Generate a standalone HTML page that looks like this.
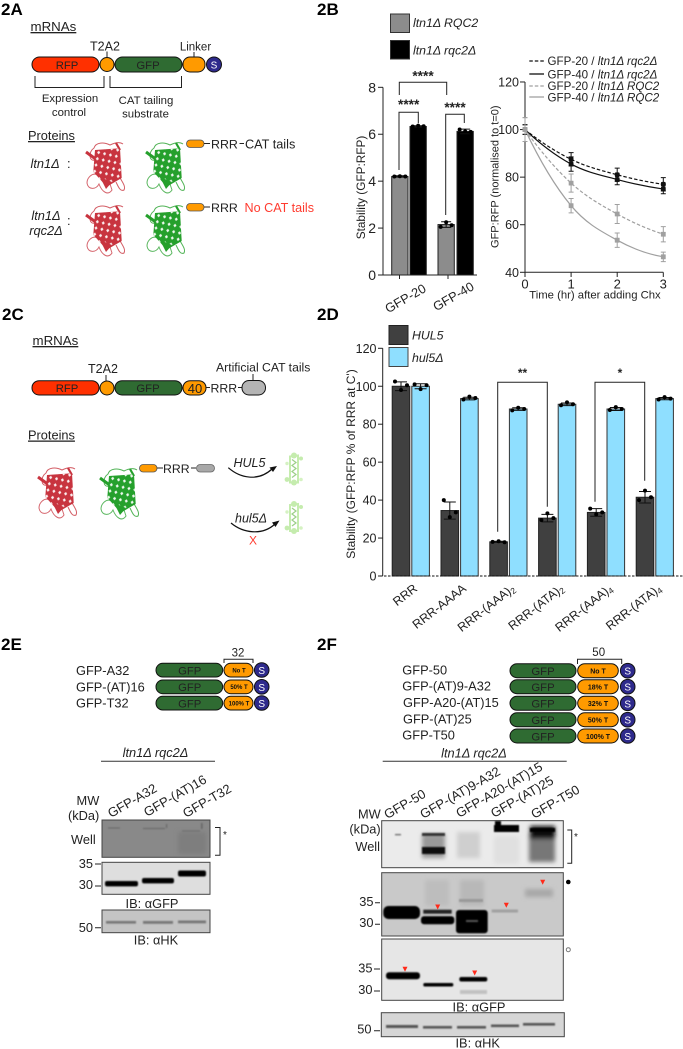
<!DOCTYPE html>
<html lang="en"><head><meta charset="utf-8"><title>Figure 2</title>
<style>
html,body{margin:0;padding:0;background:#fff}
svg{display:block}
text{font-family:"Liberation Sans","DejaVu Sans",sans-serif;fill:#222}
.i{font-style:italic}
.m{text-anchor:middle}
.e{text-anchor:end}
.b{font-weight:bold}
.pl{font-size:17px;font-weight:bold;fill:#000}
.f12{font-size:12.8px}.f13{font-size:13px}.f11{font-size:11.4px}.gl{font-size:11.3px}.nm{font-size:11.5px}
.seg{stroke:#111;stroke-width:1}
.rfp{fill:#ff3000}.gfp{fill:#2f6b32}.or{fill:#ff9a00}.sc{fill:#2e2a8c}.gr{fill:#b4b4b4}
.ln{stroke:#222;fill:none;stroke-width:1}
.st{fill:#fff;font-size:10px}
.bd{font-size:6px;font-weight:bold;fill:#111}
.blot{stroke:#444;stroke-width:1}
</style></head>
<body>
<svg xmlns="http://www.w3.org/2000/svg" width="683" height="1049" viewBox="0 0 683 1049">
<defs>
<filter id="bl" x="-20%" y="-80%" width="140%" height="260%"><feGaussianBlur stdDeviation="0.8"/></filter>
<filter id="bl2" x="-30%" y="-30%" width="160%" height="160%"><feGaussianBlur stdDeviation="2.2"/></filter>
<pattern id="holes" width="6" height="6.4" patternUnits="userSpaceOnUse" patternTransform="rotate(12)">
<path d="M3 1.4L4.6 3.2L3 5L1.4 3.2Z" fill="#fff" opacity=".92"/>
</pattern>
<symbol id="barrel" viewBox="0 0 40 56" overflow="visible">
<path d="M9 20C3 22 2 12 8 8C10 2 18 2 24 5C28 3 33 1 37 4" fill="none" stroke="currentColor" stroke-width="1" opacity=".8"/>
<path d="M12 35C6 32 1 38 1 43C2 50 10 50 13 44C16 52 22 56 26 50L24 44" fill="none" stroke="currentColor" stroke-width="1" opacity=".75"/>
<path d="M33 36C36 42 40 46 38 50C34 52 32 46 30 42" fill="none" stroke="currentColor" stroke-width="1" opacity=".8"/>
<path d="M0 12L11 20" stroke="currentColor" stroke-width="3"/>
<path d="M30 3L34 10" stroke="currentColor" stroke-width="2.2"/>
<path d="M9 10L34 8.3L35.7 38L20.7 46.7L7.3 31.7Z" fill="currentColor"/>
<path d="M9 10L34 8.3L35.7 38L20.7 46.7L7.3 31.7Z" fill="url(#holes)"/>
<path d="M14 37L26 42L20 49Z" fill="currentColor"/>
</symbol>
<symbol id="degraded" viewBox="0 0 18 33" overflow="visible">
<path d="M5 4L13 3L13 30L5 30Z" fill="none" stroke="#c5ecae" stroke-width="2"/>
<circle cx="9" cy="3" r="3" fill="#c5ecae"/><circle cx="16" cy="6" r="2" fill="#c5ecae"/><circle cx="2" cy="11" r="1.7" fill="#d5f2c2"/>
<circle cx="9" cy="30" r="3" fill="#c5ecae"/><circle cx="16" cy="27" r="1.8" fill="#d5f2c2"/><circle cx="2" cy="27" r="2.4" fill="#c5ecae"/>
<path d="M7 7L11 10L7 13L11 16L7 19L11 22L7 25" fill="none" stroke="#9ccf88" stroke-width="1.2"/>
</symbol>
</defs>

<!-- ===== 2A ===== -->
<g>
<text class="pl" x="1" y="15">2A</text>
<text x="30.5" y="31" style="font-size:13.3px" text-decoration="underline">mRNAs</text>
<text class="m" x="105" y="50.5" style="font-size:12.5px">T2A2</text>
<text class="m" x="195.5" y="50.5" style="font-size:11.5px">Linker</text>
<path class="ln" d="M107 51.5V57M194 52V57"/>
<g>
<rect class="rfp seg" x="32" y="57" width="67" height="15" rx="7.5"/>
<text class="m gl" x="67" y="69">RFP</text>
<circle class="or seg" cx="107" cy="64.5" r="7"/>
<rect class="gfp seg" x="115" y="57" width="67" height="15" rx="7.5"/>
<text class="m gl" x="148" y="69">GFP</text>
<rect class="or seg" x="183" y="57" width="22" height="15" rx="7"/>
<circle class="sc seg" cx="214" cy="64.5" r="7.5"/>
<text class="m st" x="214" y="68.5">S</text>
</g>
<path class="ln" d="M35 76V87.5H104V76M110 76V87.5H181.5V76" stroke-width="1.2"/>
<text class="m f11" x="70" y="102">Expression</text>
<text class="m f11" x="69" y="116">control</text>
<text class="m f11" x="146" y="104">CAT tailing</text>
<text class="m f11" x="145.5" y="117.5">substrate</text>
<text x="28" y="140" style="font-size:12.8px" text-decoration="underline">Proteins</text>
<text class="i f12" x="30.5" y="168">ltn1Δ</text>
<text class="f12" x="67" y="168">:</text>
<text class="i f12 m" x="46" y="220">ltn1Δ</text>
<text class="i f12 m" x="46" y="235">rqc2Δ</text>
<text class="f12" x="67" y="225">:</text>
<use href="#barrel" x="86" y="140" width="40" height="56" color="#c8343f"/>
<use href="#barrel" x="146" y="140" width="40" height="56" color="#25a02c"/>
<use href="#barrel" x="86" y="203" width="40" height="56" color="#c8343f"/>
<use href="#barrel" x="146" y="203" width="40" height="56" color="#25a02c"/>
<rect class="or" x="186.5" y="140" width="17.5" height="7.5" rx="3.7" stroke="#555" stroke-width=".8"/>
<rect class="or" x="186.5" y="203.5" width="17.5" height="7.5" rx="3.7" stroke="#555" stroke-width=".8"/>
<path class="ln" d="M204 143.5H210M239.5 143.5H244M204 207H210" stroke-width="1.2"/>
<text x="211" y="148.5" style="font-size:12.4px">RRR</text>
<text x="245" y="148.5" style="font-size:12.7px">CAT tails</text>
<text x="211" y="212" style="font-size:12.4px">RRR</text>
<text x="244.5" y="212" style="font-size:12.6px;fill:#ff3b2f">No CAT tails</text>
</g>

<!-- ===== 2B ===== -->
<g>
<text class="pl" x="317" y="15">2B</text>
<rect x="390.5" y="14" width="19" height="18.5" fill="#8c8c8c" stroke="#333"/>
<rect x="390.5" y="40.5" width="19" height="18.5" fill="#000" stroke="#333"/>
<text class="i" x="413" y="27" style="font-size:12.3px">ltn1Δ RQC2</text>
<text class="i" x="413" y="54.5" style="font-size:12.3px">ltn1Δ rqc2Δ</text>
<g id="bar2b"></g>
<text class="m" transform="translate(365,187.5) rotate(-90)" style="font-size:11.8px">Stability (GFP:RFP)</text>
<text class="e" transform="translate(427,291) rotate(-30)" style="font-size:12.8px">GFP-20</text>
<text class="e" transform="translate(475,289) rotate(-30)" style="font-size:12.8px">GFP-40</text>
<path class="ln" d="M399.3 95V82.3H446.7V95M399 170V112.3H418.3V123.3M445.7 215V114.3H464.3V123" stroke="#333"/>
<text class="m b" x="423" y="80.5" style="font-size:13.7px">****</text>
<text class="m b" x="408.7" y="109" style="font-size:13.7px">****</text>
<text class="m b" x="455" y="112" style="font-size:13.7px">****</text>

<g id="line2b"></g>
<text class="m" transform="translate(498.5,176.7) rotate(-90)" style="font-size:11px">GFP:RFP (normalised to t=0)</text>
<text class="m" x="595" y="298.5" style="font-size:11.3px">Time (hr) after adding Chx</text>
<g>
<path d="M529.3 61H544" stroke="#111" stroke-width="1.2" stroke-dasharray="3.5 2"/>
<path d="M529.3 74H544" stroke="#111" stroke-width="1.3"/>
<path d="M529.3 86H544" stroke="#a0a0a0" stroke-width="1.2" stroke-dasharray="3.5 2"/>
<path d="M529.3 97H544" stroke="#a0a0a0" stroke-width="1.3"/>
<text x="547.5" y="65" style="font-size:11.6px">GFP-20 / <tspan class="i">ltn1Δ rqc2Δ</tspan></text>
<text x="547.5" y="78.5" style="font-size:11.6px">GFP-40 / <tspan class="i">ltn1Δ rqc2Δ</tspan></text>
<text x="547.5" y="90" style="font-size:11.6px">GFP-20 / <tspan class="i">ltn1Δ RQC2</tspan></text>
<text x="547.5" y="101.5" style="font-size:11.6px">GFP-40 / <tspan class="i">ltn1Δ RQC2</tspan></text>
</g>
</g>

<!-- ===== 2C ===== -->
<g>
<text class="pl" x="2" y="320">2C</text>
<text x="32.5" y="345" style="font-size:13.3px" text-decoration="underline">mRNAs</text>
<text class="m" x="103" y="373" style="font-size:12.5px">T2A2</text>
<text x="216" y="371.5" style="font-size:12.2px">Artificial CAT tails</text>
<path class="ln" d="M106 375V381M253 374V381"/>
<g>
<rect class="rfp seg" x="32" y="380.7" width="67" height="14.3" rx="7"/>
<text class="m gl" x="67" y="392">RFP</text>
<circle class="or seg" cx="107" cy="388" r="7"/>
<rect class="gfp seg" x="115" y="380.7" width="67" height="14.3" rx="7"/>
<text class="m gl" x="148" y="392">GFP</text>
<rect class="or seg" x="183" y="380.7" width="23" height="14.3" rx="7"/>
<text class="m f13" x="195" y="393">40</text>
<path class="ln" d="M206 387.5H210M238 387.5H242"/>
<text x="210.5" y="392.5" style="font-size:12.3px">RRR</text>
<rect class="gr seg" x="242" y="380.5" width="23.5" height="14.5" rx="7"/>
</g>
<text x="28" y="439.5" style="font-size:12.8px" text-decoration="underline">Proteins</text>
<use href="#barrel" x="38" y="465" width="40" height="56" color="#c8343f"/>
<use href="#barrel" x="100" y="466" width="40" height="56" color="#25a02c"/>
<rect class="or" x="139.5" y="464.5" width="17.5" height="7.5" rx="3.7" stroke="#555" stroke-width=".8"/>
<path class="ln" d="M157 468H163M191 468H196" stroke-width="1.2"/>
<text x="163" y="473" style="font-size:12.3px">RRR</text>
<rect x="196.5" y="464.5" width="18" height="7.5" rx="3.7" fill="#a8a8a8" stroke="#666" stroke-width=".8"/>
<text class="i" x="233.5" y="467" style="font-size:12.5px">HUL5</text>
<path d="M228.3 467.7C240 478 258 482 272 469" fill="none" stroke="#111" stroke-width="1.2"/>
<path d="M277 466L269.5 467.5L273 472Z" fill="#111"/>
<use href="#degraded" x="285" y="452.5" width="18" height="33"/>
<text class="i" x="235" y="522.5" style="font-size:12.5px">hul5Δ</text>
<path d="M231 523C243 533 262 536 275 524" fill="none" stroke="#111" stroke-width="1.2"/>
<path d="M279.5 520.5L272 522.5L275.5 527Z" fill="#111"/>
<text class="m" x="253" y="544.5" style="font-size:12px;fill:#ff3b2f">X</text>
<use href="#degraded" x="285" y="501" width="18" height="33"/>
</g>

<!-- ===== 2D ===== -->
<g>
<text class="pl" x="317" y="320">2D</text>
<g id="bar2d"></g>
<rect x="389" y="325.5" width="19" height="19" fill="#404040" stroke="#222"/>
<rect x="389" y="347.5" width="19" height="19" fill="#8fdfff" stroke="#444"/>
<text class="i" x="412" y="339.5" style="font-size:12.3px">HUL5</text>
<text class="i" x="412" y="362" style="font-size:12.3px">hul5Δ</text>
<text class="m" transform="translate(355,464) rotate(-90)" style="font-size:12px">Stability (GFP:RFP % of RRR at C')</text>
<path class="ln" d="M497.7 531.7V382.3H547.3V506.7M595 501.7V382.3H644.7V480.7" stroke="#444" stroke-width=".9"/>
<text class="m b" x="522.5" y="377" style="font-size:12px">**</text>
<text class="m b" x="620" y="377" style="font-size:12px">*</text>
</g>

<!-- ===== 2E ===== -->
<g>
<text class="pl" x="1" y="650">2E</text>
<text class="f12" x="76" y="675">GFP-A32</text>
<text class="f12" x="76" y="691.3">GFP-(AT)16</text>
<text class="f12" x="76" y="707.3">GFP-T32</text>
<path class="ln" d="M224 663V659.3H253V663"/>
<text class="m nm" x="238" y="656.5">32</text>
<g>
<rect class="gfp seg" x="156" y="663.3" width="66.7" height="13.7" rx="6.8"/><text class="m gl" x="189.7" y="674.5">GFP</text>
<rect class="or seg" x="224" y="663.3" width="29" height="13.7" rx="6.8"/><text class="m bd" x="239" y="672.5">No T</text>
<circle class="sc seg" cx="261.7" cy="670" r="7.3"/><text class="m st" x="261.7" y="674">S</text></g>
<g>
<rect class="gfp seg" x="156" y="680" width="66.7" height="13.7" rx="6.8"/><text class="m gl" x="189.7" y="691">GFP</text>
<rect class="or seg" x="224" y="680" width="29" height="13.7" rx="6.8"/><text class="m bd" x="239" y="689">50% T</text>
<circle class="sc seg" cx="261.7" cy="686.8" r="7.3"/><text class="m st" x="261.7" y="690.8">S</text></g>
<g>
<rect class="gfp seg" x="156" y="696.3" width="66.7" height="13.7" rx="6.8"/><text class="m gl" x="189.7" y="707.3">GFP</text>
<rect class="or seg" x="224" y="696.3" width="29" height="13.7" rx="6.8"/><text class="m bd" x="239" y="705.5">100% T</text>
<circle class="sc seg" cx="261.7" cy="703" r="7.3"/><text class="m st" x="261.7" y="707">S</text></g>
<text class="i m f12" x="155.5" y="757">ltn1Δ rqc2Δ</text>
<path d="M101 761.3H215" stroke="#333" stroke-width="1"/>
<text transform="translate(111,818) rotate(-30)" style="font-size:13px">GFP-A32</text>
<text transform="translate(147,817) rotate(-30)" style="font-size:13px">GFP-(AT)16</text>
<text transform="translate(186,818) rotate(-30)" style="font-size:13px">GFP-T32</text>
<text class="e f12" x="99.3" y="805">MW</text>
<text class="e f12" x="99.3" y="820">(kDa)</text>
<text class="e f12" x="95.7" y="844">Well</text>
<g>
<rect class="blot" x="102" y="820" width="108" height="37.3" fill="#898989"/>
<g filter="url(#bl)" fill="#666"><rect x="108" y="827.5" width="12" height="1"/><rect x="143" y="828" width="22" height="1"/><rect x="182" y="830.5" width="18" height="1.2"/><rect x="201" y="823" width="1.6" height="6"/><rect x="166" y="824" width="1.2" height="4"/></g>
<rect x="178" y="832" width="28" height="22" fill="#7e7e7e" filter="url(#bl2)"/>
</g>
<g>
<rect class="blot" x="102" y="862.3" width="108" height="32" fill="#dedede"/>
<g filter="url(#bl)" fill="#000"><rect x="105" y="881" width="33" height="5.4" rx="2"/><rect x="142" y="878" width="32" height="5.4" rx="2"/><rect x="178" y="870.5" width="28" height="6" rx="2"/></g>
</g>
<g>
<rect class="blot" x="102" y="910" width="108" height="22.7" fill="#c4c4c4"/>
<g filter="url(#bl)" fill="#777"><rect x="106" y="921" width="30" height="2.6"/><rect x="143" y="921" width="30" height="2.8"/><rect x="178" y="920.5" width="28" height="2.8"/></g>
</g>
<path d="M95 864H101M95 886H101M95 927.7H101" stroke="#222" stroke-width="1"/>
<text class="e f12" x="93" y="868">35</text>
<text class="e f12" x="93" y="889">30</text>
<text class="e f12" x="93" y="932">50</text>
<text class="m f12" x="152" y="908">IB: αGFP</text>
<text class="m f12" x="156" y="944.5">IB: αHK</text>
<path class="ln" d="M215 827.5H220V855.3H215" stroke-width="1.1"/>
<text x="223" y="838" style="font-size:10px">*</text>
</g>

<!-- ===== 2F ===== -->
<g>
<text class="pl" x="317" y="650">2F</text>
<text class="f12" x="402.3" y="674.5">GFP-50</text>
<text class="f12" x="402.3" y="690.3">GFP-(AT)9-A32</text>
<text class="f12" x="403" y="707">GFP-A20-(AT)15</text>
<text class="f12" x="403" y="723.5">GFP-(AT)25</text>
<text class="f12" x="402.3" y="739.5">GFP-T50</text>
<path class="ln" d="M577.5 664V659.3H621.7V664"/>
<text class="m nm" x="598.7" y="656">50</text>
<g>
<rect class="gfp seg" x="510" y="663.7" width="66" height="14" rx="7"/><text class="m gl" x="543" y="675">GFP</text>
<rect class="or seg" x="577.7" y="663.7" width="40.6" height="14" rx="7"/><text class="m bd" style="font-size:7px" x="598" y="673.5">No T</text>
<circle class="sc seg" cx="627.7" cy="670.7" r="7.3"/><text class="m st" x="627.7" y="674.7">S</text></g>
<g>
<rect class="gfp seg" x="510" y="679.7" width="66" height="14" rx="7"/><text class="m gl" x="543" y="691">GFP</text>
<rect class="or seg" x="577.7" y="679.7" width="40.6" height="14" rx="7"/><text class="m bd" style="font-size:7px" x="598" y="689.5">18% T</text>
<circle class="sc seg" cx="627.7" cy="686.7" r="7.3"/><text class="m st" x="627.7" y="690.7">S</text></g>
<g>
<rect class="gfp seg" x="510" y="696.3" width="66" height="14" rx="7"/><text class="m gl" x="543" y="707.6">GFP</text>
<rect class="or seg" x="577.7" y="696.3" width="40.6" height="14" rx="7"/><text class="m bd" style="font-size:7px" x="598" y="706">32% T</text>
<circle class="sc seg" cx="627.7" cy="703.3" r="7.3"/><text class="m st" x="627.7" y="707.3">S</text></g>
<g>
<rect class="gfp seg" x="510" y="712.7" width="66" height="14" rx="7"/><text class="m gl" x="543" y="724">GFP</text>
<rect class="or seg" x="577.7" y="712.7" width="40.6" height="14" rx="7"/><text class="m bd" style="font-size:7px" x="598" y="722.5">50% T</text>
<circle class="sc seg" cx="627.7" cy="719.7" r="7.3"/><text class="m st" x="627.7" y="723.7">S</text></g>
<g>
<rect class="gfp seg" x="510" y="729" width="66" height="14" rx="7"/><text class="m gl" x="543" y="740.3">GFP</text>
<rect class="or seg" x="577.7" y="729" width="40.6" height="14" rx="7"/><text class="m bd" style="font-size:7px" x="598" y="738.8">100% T</text>
<circle class="sc seg" cx="627.7" cy="736" r="7.3"/><text class="m st" x="627.7" y="740">S</text></g>
<text class="i m f12" x="474" y="757.3">ltn1Δ rqc2Δ</text>
<path d="M382.7 761.3H566.7" stroke="#333" stroke-width="1"/>
<text transform="translate(387.3,819.3) rotate(-30)" style="font-size:13px">GFP-50</text>
<text transform="translate(423.3,819) rotate(-30)" style="font-size:13px">GFP-(AT)9-A32</text>
<text transform="translate(459.3,818) rotate(-30)" style="font-size:13px">GFP-A20-(AT)15</text>
<text transform="translate(494,818) rotate(-30)" style="font-size:13px">GFP-(AT)25</text>
<text transform="translate(534.3,819) rotate(-30)" style="font-size:13px">GFP-T50</text>
<text class="e f12" x="380.7" y="818.3">MW</text>
<text class="e f12" x="380.7" y="833.3">(kDa)</text>
<text class="e f12" x="380" y="851">Well</text>
<g>
<rect class="blot" x="381.7" y="820.7" width="181.6" height="47" fill="#ebebeb"/>
<g filter="url(#bl2)"><rect x="422" y="834" width="23" height="24" fill="#999"/><rect x="457" y="832" width="23" height="26" fill="#cfcfcf"/><rect x="494" y="836" width="25" height="28" fill="#e0e0e0"/><rect x="529" y="832" width="26" height="30" fill="#777"/><rect x="530" y="826" width="25" height="13" fill="#111"/></g>
<g filter="url(#bl)"><rect x="422" y="833" width="23" height="3" fill="#333"/><rect x="422" y="847" width="23" height="7" fill="#111"/><rect x="494" y="825" width="25" height="7" fill="#000"/><rect x="495" y="821" width="6" height="6" fill="#000"/><rect x="530" y="828" width="25" height="4" fill="#000"/><rect x="395" y="834" width="6" height="1.3" fill="#666"/></g>
</g>
<g>
<rect class="blot" x="381.7" y="872.7" width="181.6" height="63.3" fill="#c9c9c9"/>
<g filter="url(#bl2)"><rect x="425" y="880" width="24" height="26" fill="#bdbdbd"/><rect x="460" y="880" width="24" height="26" fill="#b8b8b8"/><rect x="525" y="889" width="28" height="8" fill="#a8a8a8"/></g>
<g filter="url(#bl)"><rect x="383.3" y="906" width="36.7" height="13" rx="5" fill="#000"/><rect x="423.3" y="909.7" width="28.4" height="4" fill="#222"/><rect x="421" y="916.3" width="33.3" height="8" rx="3" fill="#000"/><rect x="456" y="910" width="31.7" height="23.3" rx="3" fill="#000"/><rect x="491.7" y="909.5" width="26.3" height="3" fill="#a0a0a0"/><rect x="459" y="899" width="24" height="3" fill="#999"/></g>
<rect x="466" y="920" width="12" height="2" fill="#555" filter="url(#bl)"/>
</g>
<g>
<rect class="blot" x="381.7" y="939" width="181.6" height="61.3" fill="#e6e6e6"/>
<g filter="url(#bl)"><rect x="386" y="972.2" width="34" height="7" rx="3" fill="#000"/><rect x="423.3" y="983" width="30" height="3.5" rx="1.5" fill="#000"/><rect x="459.3" y="977" width="28" height="4.5" rx="2" fill="#000"/><rect x="460" y="990" width="27" height="4" fill="#c2c2c2"/></g>
</g>
<g>
<rect class="blot" x="381.3" y="1012.7" width="183" height="24" fill="#d6d6d6"/>
<g filter="url(#bl)" fill="#555"><rect x="386" y="1025" width="32" height="3"/><rect x="423" y="1026" width="29" height="2.6"/><rect x="457" y="1026" width="29" height="2.6"/><rect x="491" y="1024.5" width="28" height="2.6"/><rect x="523" y="1023" width="32" height="2.6"/></g>
</g>
<g fill="#ff2a1a">
<path d="M435.2 904.5H440.2L437.7 909.5Z"/><path d="M503.8 902.8H508.8L506.3 907.8Z"/><path d="M540.2 879.8H545.2L542.7 884.8Z"/><path d="M402.5 966.8H407.5L405 971.8Z"/><path d="M472.2 970.5H477.2L474.7 975.5Z"/>
</g>
<path d="M375 902.7H380M375 924.3H380M374 969H380M374 991H380M374 1030.7H380" stroke="#222" stroke-width="1"/>
<text class="e f12" x="373.5" y="906">35</text>
<text class="e f12" x="373.5" y="927">30</text>
<text class="e f12" x="372.5" y="972.5">35</text>
<text class="e f12" x="372.5" y="994">30</text>
<text class="e f12" x="371.5" y="1033.5">50</text>
<text class="m f12" x="479" y="1011.7">IB: αGFP</text>
<text class="m f12" x="477.7" y="1047.7">IB: αHK</text>
<path class="ln" d="M567.3 830H571.7V863.3H567.3" stroke-width="1.1"/>
<text x="574" y="840" style="font-size:10px">*</text>
<circle cx="568.3" cy="882" r="2.3" fill="#000"/>
<circle cx="568.3" cy="949.7" r="2" fill="#fff" stroke="#777"/>
</g>
</svg>
<script>
// ---- Panel 2B bar chart data ----
var stabilityTicks = [0, 2, 4, 6, 8];
var stabilityNames = ['gfp-20-rqc2', 'gfp-20-rqc2-del', 'gfp-40-rqc2', 'gfp-40-rqc2-del'];
var stabilityMeans = [4.2, 6.33, 2.15, 6.12];
var stabilityErrors = [0.03, 0.03, 0.12, 0.1];
var stabilityPoints = [[4.2, 4.21, 4.2], [6.33, 6.36, 6.34], [2.05, 2.25, 2.12], [6.2, 6.12, 6.1]];

// ---- Panel 2B decay chart data ----
var decayTimes = [0, 1, 2, 3];
var decayTicksY = [40, 60, 80, 100, 120];
var decay20Del = [100, 87.5, 81, 77];
var decay40Del = [100, 85.5, 79, 75];
var decay20Wt = [100, 77.5, 64.5, 56];
var decay40Wt = [100, 68, 53.5, 46.5];
var decay20DelErr = [2, 2.8, 2.8, 2.8];
var decay40DelErr = [2, 3, 2.2, 2];
var decay20WtErr = [5, 3.8, 4, 3.2];
var decay40WtErr = [5, 3, 3, 2];

// ---- Panel 2D chart data ----
var hulCategories = ['RRR', 'RRR-AAAA', 'RRR-(AAA)', 'RRR-(ATA)', 'RRR-(AAA)', 'RRR-(ATA)'];
var hulSubscripts = ['', '', '2', '2', '4', '4'];
var hulTicks = [0, 20, 40, 60, 80, 100, 120];
var hul5Means = [100, 34.5, 18, 30.5, 33.5, 41.5];
var hul5Errors = [2.3, 4.5, 0.3, 2, 2, 3];
var hul5Points = [[102.5, 98, 100.5], [40, 31, 33.5], [18, 18.3, 17.8], [29.5, 33, 30.5], [35.5, 32.5, 33.5], [40, 45, 41.5]];
var hul5DelMeans = [100, 93.5, 88, 90.5, 88, 93.5];
var hul5DelErrors = [1.3, 0.7, 0.7, 0.7, 0.8, 0.6];
var hul5DelPoints = [[101, 98.5, 100.5], [93, 94.5, 93.8], [87.3, 88.7, 88], [90, 91.5, 90.5], [87.5, 89, 88], [93, 94.3, 93.5]];

var NS = 'http://www.w3.org/2000/svg';
function mk(tag, attrs, parent) {
  var el = document.createElementNS(NS, tag);
  for (var k in attrs) el.setAttribute(k, attrs[k]);
  parent.appendChild(el);
  return el;
}
function errBar(parent, x, yTop, yBot, cap, color, w) {
  var d = 'M' + x + ' ' + yTop + 'V' + yBot + 'M' + (x - cap) + ' ' + yTop + 'H' + (x + cap) + 'M' + (x - cap) + ' ' + yBot + 'H' + (x + cap);
  return mk('path', { d: d, stroke: color, 'stroke-width': w, fill: 'none' }, parent);
}
function axisLabel(parent, x, y, str, size, anchor) {
  var t = mk('text', { x: x, y: y, 'text-anchor': anchor, style: 'font-size:' + size + 'px' }, parent);
  t.textContent = str;
  return t;
}

// Panel 2B: bars
(function () {
  var g = document.getElementById('bar2b');
  function y(v) { return 275 - v * 23.46; }
  var barX = [391.7, 410, 438, 457];
  var fills = ['#8c8c8c', '#000', '#8c8c8c', '#000'];
  var ax = mk('path', { d: 'M383 ' + y(8) + 'V275H477', stroke: '#222', fill: 'none', 'stroke-width': 1 }, g);
  
  
  stabilityTicks.forEach(function (t) {
    var tk = mk('path', { d: 'M378 ' + y(t) + 'H383', stroke: '#222' }, g);
    
    
    var lb = axisLabel(g, 376, y(t) + 5, String(t), 14, 'end');
    
    
  });
  var xt = mk('path', { d: 'M399.5 275V279M448 275V279', stroke: '#222' }, g);
  
  
  stabilityMeans.forEach(function (m, i) {
    var r = mk('rect', { x: barX[i], y: y(m), width: 16.3, height: 275 - y(m), fill: fills[i], stroke: '#222', 'stroke-width': 1 }, g);
    
    
    var cx = barX[i] + 8.15;
    var e = errBar(g, cx, y(m + stabilityErrors[i]), y(m - stabilityErrors[i]), 5, '#111', 1);
    
    
    stabilityPoints[i].forEach(function (p, j) {
      var c = mk('circle', { cx: cx + (j - 1) * 5.5, cy: y(p), r: 2, fill: '#000' }, g);
      
      
    });
  });
})();

// Panel 2B: decay curves
(function () {
  var g = document.getElementById('line2b');
  function x(t) { return 525 + t * 46.1; }
  function y(v) { return 272.3 - (v - 40) * 2.379; }
  var ax = mk('path', { d: 'M525 ' + y(120) + 'V272.3H' + x(3), stroke: '#222', fill: 'none' }, g);
  
  
  decayTicksY.forEach(function (t) {
    var tk = mk('path', { d: 'M520 ' + y(t) + 'H525', stroke: '#222' }, g);
    
    
    var lb = axisLabel(g, 519, y(t) + 4.5, String(t), 12.5, 'end');
    
    
  });
  decayTimes.forEach(function (t) {
    var tk = mk('path', { d: 'M' + x(t) + ' 272.3V277', stroke: '#222' }, g);
    
    
    var lb = axisLabel(g, x(t), 288.5, String(t), 13, 'middle');
    
    
  });
  function curve(vals) {
    var n = vals.length, m = [], d = 'M' + x(decayTimes[0]) + ' ' + y(vals[0]);
    m[0] = (-3 * vals[0] + 4 * vals[1] - vals[2]) / 2;
    for (var i = 1; i < n - 1; i++) m[i] = (vals[i + 1] - vals[i - 1]) / 2;
    m[n - 1] = (3 * vals[n - 1] - 4 * vals[n - 2] + vals[n - 3]) / 2;
    for (i = 0; i < n - 1; i++) {
      d += 'C' + x(decayTimes[i] + 1 / 3) + ' ' + y(vals[i] + m[i] / 3) + ' ' +
        x(decayTimes[i + 1] - 1 / 3) + ' ' + y(vals[i + 1] - m[i + 1] / 3) + ' ' +
        x(decayTimes[i + 1]) + ' ' + y(vals[i + 1]);
    }
    return d;
  }
  function series(vals, errs, color, dash, name, circleMark) {
    var p = mk('path', { d: curve(vals), fill: 'none', stroke: color, 'stroke-width': 1.2 }, g);
    if (dash) p.setAttribute('stroke-dasharray', '3.5 2');
    
    
    vals.forEach(function (v, i) {
      var e = errBar(g, x(decayTimes[i]), y(v + errs[i]), y(v - errs[i]), 2.5, color, 1);
      
      
      var mark = mk('rect', { x: x(decayTimes[i]) - 2.4, y: y(v) - 2.4, width: 4.8, height: 4.8, rx: circleMark ? 1.2 : 0.3, fill: color }, g);
      
      
    });
  }
  series(decay20Del, decay20DelErr, '#111', true, 'gfp-20-rqc2-del', true);
  series(decay40Del, decay40DelErr, '#111', false, 'gfp-40-rqc2-del', true);
  series(decay20Wt, decay20WtErr, '#a0a0a0', true, 'gfp-20-rqc2', false);
  series(decay40Wt, decay40WtErr, '#a0a0a0', false, 'gfp-40-rqc2', false);
})();

// Panel 2D: bars
(function () {
  var g = document.getElementById('bar2d');
  function y(v) { return 576 - v * 1.8975; }
  function mid(i) { return 410.7 + i * 48.8; }
  var ax = mk('path', { d: 'M382.7 ' + y(120) + 'V576', stroke: '#222', fill: 'none' }, g);
  
  
  hulTicks.forEach(function (t) {
    var tk = mk('path', { d: 'M378 ' + y(t) + 'H382.7', stroke: '#222' }, g);
    
    
    var lb = axisLabel(g, 376.5, y(t) + 4.5, String(t), 12.5, 'end');
    
    
  });
  function bars(means, errs, pts, offset, fill, stroke, name) {
    means.forEach(function (m, i) {
      var cx = mid(i) + offset;
      var r = mk('rect', { x: cx - 8.8, y: y(m), width: 17.6, height: 576 - y(m), fill: fill, stroke: stroke, 'stroke-width': 1 }, g);
      
      
      var e = errBar(g, cx, y(m + errs[i]), y(m - errs[i]), 6, '#111', 1);
      
      
      pts[i].forEach(function (p, j) {
        var c = mk('circle', { cx: cx + (j - 1) * 6, cy: y(p), r: 2, fill: '#000' }, g);
        
        
      });
    });
  }
  bars(hul5Means, hul5Errors, hul5Points, -9.7, '#404040', '#222', 'hul5');
  bars(hul5DelMeans, hul5DelErrors, hul5DelPoints, 9.9, '#8fdfff', '#333', 'hul5-del');
  var base = mk('path', { d: 'M380 576H683', stroke: '#111', 'stroke-width': 1, 'stroke-dasharray': '2.5 1.5' }, g);
  
  
  hulCategories.forEach(function (c, i) {
    var t = mk('text', { 'text-anchor': 'end', transform: 'translate(' + (mid(i) + 7.5) + ',590) rotate(-38)', style: 'font-size:12.4px' }, g);
    
    
    t.appendChild(document.createTextNode(c));
    if (hulSubscripts[i]) {
      var s = mk('tspan', { dy: 2, style: 'font-size:8.5px' }, t);
      s.textContent = hulSubscripts[i];
    }
  });
})();
</script>
</body></html>
